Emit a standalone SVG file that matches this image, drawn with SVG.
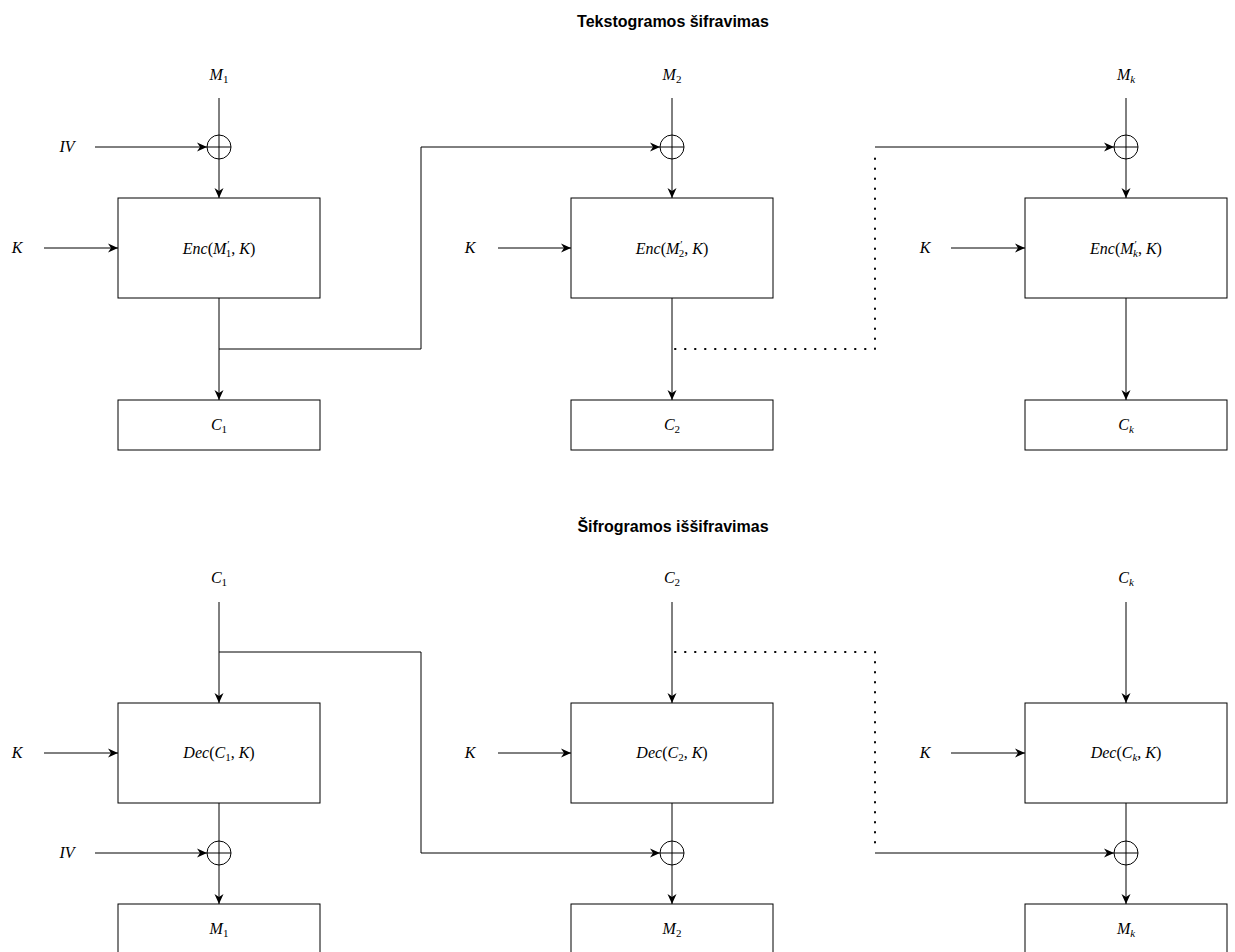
<svg xmlns="http://www.w3.org/2000/svg" width="1235" height="952" viewBox="0 0 1235 952">
<style>
.box{fill:#fff;stroke:#000;stroke-width:1}
.ln{fill:none;stroke:#000;stroke-width:1}
.dot{fill:none;stroke:#000;stroke-width:2;stroke-dasharray:0.5 9.5;stroke-linecap:round}
.m{font-family:"Liberation Serif","DejaVu Serif",serif;font-size:16px;font-style:italic;text-anchor:middle;fill:#000}
.u{font-style:normal}
.s{font-size:11px}
.title{font-family:"Liberation Sans",Arial,sans-serif;font-size:16px;font-weight:bold;text-anchor:middle;fill:#000}
.xor{fill:#fff;stroke:#000;stroke-width:1}
</style>
<defs>
<marker id="arr" viewBox="0 0 10 10" refX="10" refY="5" markerWidth="10" markerHeight="10" markerUnits="userSpaceOnUse" orient="auto">
<path d="M0,0.5 L10,5 L0,9.5 L3,5 z" fill="#000"/>
</marker>
</defs>
<text class="title" x="673" y="27">Tekstogramos šifravimas</text>
<text class="title" x="673" y="532">Šifrogramos iššifravimas</text>
<g id="connectors">
<line class="ln" x1="219" y1="98" x2="219" y2="135"/>
<line class="ln" x1="219" y1="159" x2="219" y2="198" marker-end="url(#arr)"/>
<line class="ln" x1="95" y1="147" x2="207" y2="147" marker-end="url(#arr)"/>
<line class="ln" x1="44" y1="248" x2="118" y2="248" marker-end="url(#arr)"/>
<line class="ln" x1="219" y1="298" x2="219" y2="400" marker-end="url(#arr)"/>
<polyline class="ln" points="219,349 421,349 421,147 660,147" marker-end="url(#arr)"/>
<line class="ln" x1="672" y1="98" x2="672" y2="135"/>
<line class="ln" x1="672" y1="159" x2="672" y2="198" marker-end="url(#arr)"/>
<line class="ln" x1="498" y1="248" x2="571" y2="248" marker-end="url(#arr)"/>
<line class="ln" x1="672" y1="298" x2="672" y2="400" marker-end="url(#arr)"/>
<polyline class="dot" points="675,349 875,349 875,152"/>
<line class="ln" x1="875" y1="147" x2="1114" y2="147" marker-end="url(#arr)"/>
<line class="ln" x1="1126" y1="98" x2="1126" y2="135"/>
<line class="ln" x1="1126" y1="159" x2="1126" y2="198" marker-end="url(#arr)"/>
<line class="ln" x1="951" y1="248" x2="1025" y2="248" marker-end="url(#arr)"/>
<line class="ln" x1="1126" y1="298" x2="1126" y2="400" marker-end="url(#arr)"/>
<line class="ln" x1="219" y1="602" x2="219" y2="703" marker-end="url(#arr)"/>
<line class="ln" x1="44" y1="753" x2="118" y2="753" marker-end="url(#arr)"/>
<line class="ln" x1="219" y1="803" x2="219" y2="841"/>
<line class="ln" x1="95" y1="853" x2="207" y2="853" marker-end="url(#arr)"/>
<line class="ln" x1="219" y1="865" x2="219" y2="904" marker-end="url(#arr)"/>
<polyline class="ln" points="219,652 421,652 421,853 660,853" marker-end="url(#arr)"/>
<line class="ln" x1="672" y1="602" x2="672" y2="703" marker-end="url(#arr)"/>
<line class="ln" x1="498" y1="753" x2="571" y2="753" marker-end="url(#arr)"/>
<line class="ln" x1="672" y1="803" x2="672" y2="841"/>
<line class="ln" x1="672" y1="865" x2="672" y2="904" marker-end="url(#arr)"/>
<polyline class="dot" points="675,652 875,652 875,848"/>
<line class="ln" x1="875" y1="853" x2="1114" y2="853" marker-end="url(#arr)"/>
<line class="ln" x1="1126" y1="602" x2="1126" y2="703" marker-end="url(#arr)"/>
<line class="ln" x1="951" y1="753" x2="1025" y2="753" marker-end="url(#arr)"/>
<line class="ln" x1="1126" y1="803" x2="1126" y2="841"/>
<line class="ln" x1="1126" y1="865" x2="1126" y2="904" marker-end="url(#arr)"/>
</g>
<g id="labels">
<text class="m" x="219" y="80">M<tspan class="u s" dy="3">1</tspan></text>
<text class="m" x="672" y="80">M<tspan class="u s" dy="3">2</tspan></text>
<text class="m" x="1126" y="80">M<tspan class="s" dy="3">k</tspan></text>
<text class="m" x="67" y="152">IV</text>
<text class="m" x="17" y="253">K</text>
<text class="m" x="470" y="253">K</text>
<text class="m" x="925" y="253">K</text>
<text class="m" x="219" y="583">C<tspan class="u s" dy="3">1</tspan></text>
<text class="m" x="672" y="583">C<tspan class="u s" dy="3">2</tspan></text>
<text class="m" x="1126" y="583">C<tspan class="s" dy="3">k</tspan></text>
<text class="m" x="67" y="858">IV</text>
<text class="m" x="17" y="758">K</text>
<text class="m" x="470" y="758">K</text>
<text class="m" x="925" y="758">K</text>
</g>
<g id="xor1"><circle class="xor" cx="219" cy="147" r="12"/><path class="ln" d="M207,147H231M219,135V159"/></g>
<g id="xor2"><circle class="xor" cx="672" cy="147" r="12"/><path class="ln" d="M660,147H684M672,135V159"/></g>
<g id="xor3"><circle class="xor" cx="1126" cy="147" r="12"/><path class="ln" d="M1114,147H1138M1126,135V159"/></g>
<g id="xor4"><circle class="xor" cx="219" cy="853" r="12"/><path class="ln" d="M207,853H231M219,841V865"/></g>
<g id="xor5"><circle class="xor" cx="672" cy="853" r="12"/><path class="ln" d="M660,853H684M672,841V865"/></g>
<g id="xor6"><circle class="xor" cx="1126" cy="853" r="12"/><path class="ln" d="M1114,853H1138M1126,841V865"/></g>
<g id="enc1"><rect class="box" x="118" y="198" width="202" height="100"/>
<text class="m" x="219" y="254">Enc<tspan class="u">(</tspan>M<tspan class="u s" dx="1" dy="-6">′</tspan><tspan class="u s" dx="-4" dy="9">1</tspan><tspan class="u" dy="-3">, </tspan>K<tspan class="u">)</tspan></text></g>
<g id="enc2"><rect class="box" x="571" y="198" width="202" height="100"/>
<text class="m" x="672" y="254">Enc<tspan class="u">(</tspan>M<tspan class="u s" dx="1" dy="-6">′</tspan><tspan class="u s" dx="-4" dy="9">2</tspan><tspan class="u" dy="-3">, </tspan>K<tspan class="u">)</tspan></text></g>
<g id="enc3"><rect class="box" x="1025" y="198" width="202" height="100"/>
<text class="m" x="1126" y="254">Enc<tspan class="u">(</tspan>M<tspan class="u s" dx="1" dy="-6">′</tspan><tspan class="s" dx="-4" dy="9">k</tspan><tspan class="u" dy="-3">, </tspan>K<tspan class="u">)</tspan></text></g>
<g id="c1"><rect class="box" x="118" y="400" width="202" height="50"/><text class="m" x="219" y="430">C<tspan class="u s" dy="3">1</tspan></text></g>
<g id="c2"><rect class="box" x="571" y="400" width="202" height="50"/><text class="m" x="672" y="430">C<tspan class="u s" dy="3">2</tspan></text></g>
<g id="c3"><rect class="box" x="1025" y="400" width="202" height="50"/><text class="m" x="1126" y="430">C<tspan class="s" dy="3">k</tspan></text></g>
<g id="dec1"><rect class="box" x="118" y="703" width="202" height="100"/>
<text class="m" x="219" y="758">Dec<tspan class="u">(</tspan>C<tspan class="u s" dy="3">1</tspan><tspan class="u" dy="-3">, </tspan>K<tspan class="u">)</tspan></text></g>
<g id="dec2"><rect class="box" x="571" y="703" width="202" height="100"/>
<text class="m" x="672" y="758">Dec<tspan class="u">(</tspan>C<tspan class="u s" dy="3">2</tspan><tspan class="u" dy="-3">, </tspan>K<tspan class="u">)</tspan></text></g>
<g id="dec3"><rect class="box" x="1025" y="703" width="202" height="100"/>
<text class="m" x="1126" y="758">Dec<tspan class="u">(</tspan>C<tspan class="s" dy="3">k</tspan><tspan class="u" dy="-3">, </tspan>K<tspan class="u">)</tspan></text></g>
<g id="m1"><rect class="box" x="118" y="904" width="202" height="50"/><text class="m" x="219" y="934">M<tspan class="u s" dy="3">1</tspan></text></g>
<g id="m2"><rect class="box" x="571" y="904" width="202" height="50"/><text class="m" x="672" y="934">M<tspan class="u s" dy="3">2</tspan></text></g>
<g id="m3"><rect class="box" x="1025" y="904" width="202" height="50"/><text class="m" x="1126" y="934">M<tspan class="s" dy="3">k</tspan></text></g>
</svg>
